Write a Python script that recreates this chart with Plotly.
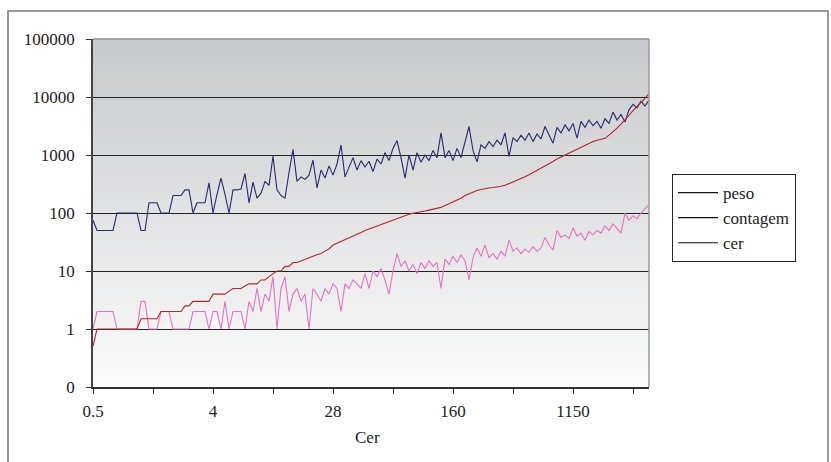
import plotly.graph_objects as go

# Category values (Cer) - also plotted as the "cer" series
cer = [0.5, 1, 1, 1, 1, 1, 1, 1, 1, 1, 1, 1, 1.5, 1.5, 1.5, 1.5, 1.5, 2, 2, 2,
       2, 2, 2, 2.5, 2.5, 3, 3, 3, 3, 3, 4, 4, 4, 4, 4.5, 5, 5, 5, 5.5, 6,
       6, 6, 7, 7, 8, 9, 10, 10, 12, 12, 14, 14, 15, 16, 17, 18, 19, 20, 22, 24,
       28, 30, 32, 34, 37, 40, 43, 46, 50, 53, 56, 60, 64, 68, 72, 76, 80, 85, 90, 95,
       99, 101, 104, 108, 112, 116, 120, 125, 135, 145, 160, 170, 180, 200, 215, 230, 245, 255, 265, 270,
       275, 280, 290, 300, 320, 340, 360, 390, 420, 455, 495, 535, 580, 630, 700, 770, 850, 920, 1000, 1080,
       1150, 1280, 1380, 1490, 1600, 1700, 1800, 1870, 1940, 2200, 2500, 2900, 3400, 4000, 4800, 5800, 6800, 8000, 9500, 11500]

peso = [75, 50, 50, 50, 50, 50, 100, 100, 100, 100, 100, 100, 50, 50, 150, 150, 150, 100, 100, 100,
        200, 200, 200, 250, 250, 100, 150, 150, 150, 330, 100, 210, 400, 210, 100, 250, 250, 260, 480, 150,
        340, 180, 220, 350, 300, 950, 250, 200, 180, 500, 1250, 350, 420, 380, 450, 820, 270, 550, 400, 650,
        450, 700, 1490, 420, 600, 900, 550, 800, 620, 780, 520, 850, 700, 1100, 800, 1300, 1770, 900, 400, 1000,
        550, 1100, 750, 1000, 800, 1200, 900, 2400, 900, 1200, 800, 1300, 900, 1600, 3100, 1200, 760, 1500, 1300, 1700,
        1400, 1800, 1500, 2400, 950, 2000, 1700, 2200, 1800, 2400, 1700, 2300, 1900, 3100, 2200, 1600, 3000, 2400, 3300, 2600,
        3500, 1950, 3800, 3000, 4000, 3200, 3800, 2900, 4200, 3500, 5500, 4000, 5000, 3700, 6000, 7500, 6500, 8500, 7000, 8900]

contagem = [1, 2, 2, 2, 2, 2, 1, 1, 1, 1, 1, 1, 3, 3, 1, 1, 1, 2, 2, 2,
            1, 1, 1, 1, 1, 2, 2, 2, 2, 1, 2, 2, 1, 3, 1, 2, 2, 2, 1, 3,
            2, 5, 2, 4, 3, 8, 1, 5, 8, 2, 4, 5, 3, 4, 1, 5, 4, 3, 5, 4,
            6, 5, 2, 6, 5, 7, 6, 5, 9, 5, 10, 8, 11, 7, 4, 10, 20, 12, 15, 10,
            13, 9, 14, 11, 15, 12, 14, 5, 16, 13, 18, 14, 19, 15, 7, 17, 25, 18, 28, 17,
            20, 16, 22, 18, 34, 22, 25, 20, 24, 21, 26, 22, 25, 38, 28, 23, 50, 38, 42, 36,
            55, 40, 45, 34, 48, 42, 50, 45, 60, 50, 65, 55, 45, 100, 75, 90, 80, 100, 120, 140]

series_names = ["peso", "contagem", "cer"]
series_colors = ["#262b6c", "#e274c0", "#b3262b"]
label_positions = [0, 30, 60, 90, 120]
tick_positions = [0, 15, 30, 45, 60, 75, 90, 105, 120, 135]
y_ticks = [0.1, 1, 10, 100, 1000, 10000, 100000]
y_labels = ["0", "1", "10", "100", "1000", "10000", "100000"]

x = list(range(len(cer)))
FONT = '"Liberation Serif", "Times New Roman", "DejaVu Serif", serif'

fig = go.Figure()
for name, vals, col in zip(series_names, [peso, contagem, cer], series_colors):
    fig.add_trace(go.Scatter(x=x, y=vals, mode="lines", name=name,
                             line=dict(color=col, width=1.1), showlegend=False))
# legend entries (Excel-style black legend keys)
for name in series_names:
    fig.add_trace(go.Scatter(x=[None], y=[None], mode="lines", name=name,
                             line=dict(color="#111111", width=1.2)))

ticktext = [str(cer[i]) if i in label_positions else "" for i in tick_positions]

# plot area geometry (px)
L, R, T, B = 93, 649, 39, 387
W, H = 831, 462
pw, ph = R - L, B - T

shapes = []
# vertical gradient background
n = 60
top = (199, 200, 203)
bot = (252, 252, 252)
for k in range(n):
    f = (k + 0.5) / n
    c = tuple(int(round(top[j] + (bot[j] - top[j]) * f)) for j in range(3))
    shapes.append(dict(type="rect", xref="paper", yref="paper",
                       x0=0, x1=1, y0=1 - (k + 1) / n, y1=1 - k / n + 0.002,
                       fillcolor="rgb(%d,%d,%d)" % c, line=dict(width=0), layer="below"))
# top and right plot border (gray)
shapes.append(dict(type="line", xref="paper", yref="paper", x0=0, x1=1, y0=1, y1=1,
                   line=dict(color="#9a9a9a", width=1.5), layer="above"))
shapes.append(dict(type="line", xref="paper", yref="paper", x0=1, x1=1, y0=0, y1=1,
                   line=dict(color="#9a9a9a", width=1.5), layer="above"))
# outer chart frame
shapes.append(dict(type="rect", xref="paper", yref="paper",
                   x0=(8 - L) / pw, x1=(828 - L) / pw,
                   y0=(B - 475) / ph, y1=(B - 11) / ph,
                   line=dict(color="#7a7a7a", width=1.5), fillcolor="rgba(0,0,0,0)", layer="below"))

fig.update_layout(
    width=W, height=H,
    margin=dict(l=L, r=W - R, t=T, b=H - B, pad=0),
    paper_bgcolor="white", plot_bgcolor="rgba(0,0,0,0)",
    font=dict(family=FONT, size=17, color="#222222"),
    shapes=shapes,
    showlegend=True,
    legend=dict(x=(672 - L) / pw, y=(B - 174) / ph, xanchor="left", yanchor="top",
                bgcolor="white", bordercolor="#222222", borderwidth=1,
                font=dict(family=FONT, size=17, color="#222222"),
                itemwidth=40, tracegroupgap=0),
    annotations=[dict(text="Cer", xref="paper", yref="paper",
                      x=(367 - L) / pw, y=(B - 437) / ph, xanchor="center", yanchor="middle",
                      showarrow=False, font=dict(family=FONT, size=17, color="#222222"))],
)
fig.update_xaxes(range=[0, len(cer) - 1], tickmode="array", tickvals=tick_positions, ticktext=ticktext,
                 ticks="outside", ticklen=5, tickcolor="#333333", tickwidth=1,
                 showline=True, linecolor="#333333", linewidth=1.5,
                 showgrid=False, zeroline=False, ticklabelstandoff=3)
fig.update_yaxes(type="log", range=[-1, 5], tickmode="array", tickvals=y_ticks, ticktext=y_labels,
                 ticks="outside", ticklen=5, tickcolor="#333333", tickwidth=1,
                 showline=True, linecolor="#444444", linewidth=1.5,
                 showgrid=True, gridcolor="#222222", gridwidth=1.3, zeroline=False,
                 ticklabelstandoff=8)

fig.write_html("out.html", config={"displayModeBar": False})

# remove default page margin so the figure sits at the window origin
with open("out.html", "r", encoding="utf-8") as fh:
    html = fh.read()
html = html.replace("<head>", "<head><style>html,body{margin:0;padding:0;overflow:hidden;}</style>", 1)
with open("out.html", "w", encoding="utf-8") as fh:
    fh.write(html)
